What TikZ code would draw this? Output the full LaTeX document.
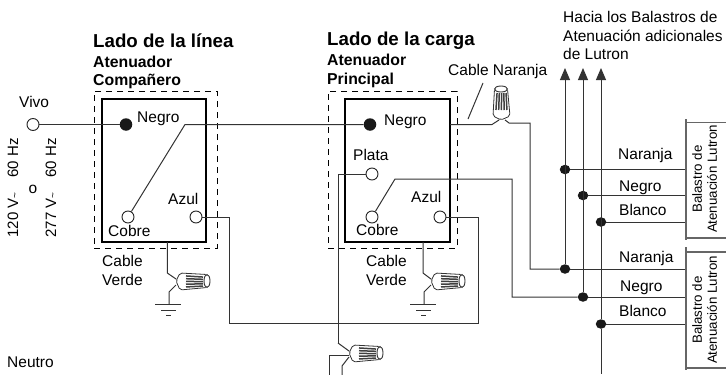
\documentclass[tikz,border=0pt]{standalone}
\usepackage{fontspec}
\setmainfont{Liberation Sans}
\usetikzlibrary{arrows.meta,shapes.geometric}

\begin{document}
\begin{tikzpicture}[x=1pt,y=-1pt,
lbl/.style={%
anchor=west,
inner sep=0pt,
text height=11pt,
text depth=3pt,
font=\fontsize{15.5}{18}\selectfont,
},
head/.style={%
anchor=west,
inner sep=0pt,
font=\fontsize{18.7}{22}\selectfont\bfseries,
},
sub/.style={%
anchor=west,
inner sep=0pt,
font=\fontsize{15.8}{19}\selectfont\bfseries,
},
side/.style={%
rotate=90,
inner sep=0pt,
font=\fontsize{15}{17}\selectfont,
},
bal/.style={%
rotate=90,
inner sep=0pt,
font=\fontsize{13.3}{15}\selectfont,
},
term/.style={%
circle,
draw=black!85,
fill=white,
line width=.9pt,
minimum size=12pt,
inner sep=0pt,
},
blk/.style={%
circle,
fill=black!90,
minimum size=12.5pt,
inner sep=0pt,
},
jct/.style={%
ellipse,
fill=black!90,
minimum width=10.5pt,
minimum height=9.5pt,
inner sep=0pt,
},
inbox/.style={%
draw,
line width=1.3pt,
},
dashbox/.style={%
draw,
line width=.8pt,
dash pattern=on 6pt off 5pt,
},
wire/.style={%
draw=black!80,
line width=1pt,
},
brk/.style={%
draw=black!60,
line width=1.3pt,
},
nut/.pic={%
\draw[black!80,line width=.8pt,fill=white,rounded corners=2pt] (0,-1)--(4,-9)--(31,-7.5)--(31,5.5)--(4,8)--cycle;
\draw[black!80,line width=.9pt,fill=white] (31,-1) ellipse [x radius=3,y radius=6.5];
\foreach \y in {-5.5,-3,-.5,2,4.5}{%
\draw[black!75,line width=1.5pt] (10,\y*1.1)--(27,\y*.9);
}
\coordinate (-a) at (0,-3);
\coordinate (-b) at (0,3);
},
gnd/.pic={%
\draw[wire] (-14,0)--(12,0);
\draw[wire] (-8,6)--(7,6);
\draw[wire] (-3,11)--(2,11);
\coordinate (-o) at (0,0);
},
]
\useasboundingbox (0,0) rectangle (726,375);
%% Boxes
\node[inbox,minimum width=104,minimum height=143]at(154,170.5)(boxA){};
\node[dashbox,minimum width=123,minimum height=157]at(155.5,169.5)(dashA){};
\node[inbox,minimum width=105,minimum height=143]at(397.5,170.5)(boxB){};
\node[dashbox,minimum width=129,minimum height=157]at(392.5,169.5)(dashB){};
%% Terminals
\node[term]at(33,124.5)(vivo){};
\node[blk]at(126,124.5)(negroA){};
\node[term]at(128,217)(cobreA){};
\node[term]at(196,217)(azulA){};
\node[blk]at(370,124.5)(negroB){};
\node[term]at(372,174)(plataB){};
\node[term]at(372,217)(cobreB){};
\node[term]at(440,217)(azulB){};
%% Bends
\coordinate(kA)at(185,124.5);
\coordinate(kB)at(395,179);
\coordinate(kC)at(512,179);
\coordinate(azA)at(229,323);
\coordinate(azB)at(478,323);
\coordinate(plA)at(338,343);
\coordinate(orA)at(450,124.5);
\coordinate(orB)at(492,124.5);
\coordinate(orC)at(509,123);
\coordinate(orD)at(530,123);
\coordinate(vdA)at(167.3,242);
\coordinate(vdB)at(167.3,273);
\coordinate(vdC)at(169,292);
\coordinate(veA)at(423,242);
\coordinate(veB)at(423,273);
\coordinate(veC)at(424,292);
\coordinate(neA)at(329,355);
\coordinate(neB)at(329,375);
\coordinate(neC)at(342,366);
\coordinate(neD)at(342,375);
\coordinate(cnA)at(483,83);
\coordinate(cnB)at(468,119);
%% Ballast junctions
\foreach \n/\x/\y in {a/565/169.5,b/583/195.5,c/601/222,d/565/269,e/583/297,f/601/324}{%
\node[jct]at(\x,\y)(j\n){};
\coordinate(e\n)at(686,\y);
\draw[wire](j\n)--(e\n);
}
\foreach \n/\x/\f in {a/565/d,b/583/e,c/601/f}{%
\coordinate(up\n)at(\x,68);
\draw[wire,-{Triangle[length=12pt,width=10pt]}](j\f)--(up\n);
}
\coordinate(dwn)at(601,374);
\draw[wire](jf)--(dwn);
%% Wires
\draw[wire](vivo)--(negroA);
\draw[wire](cobreA)--(kA)--(negroB);
\draw[wire](azulA)-|(azA)--(azB)|-(azulB);
\draw[wire](cobreB)--(kB)--(kC)|-(je);
\draw[wire](plataB)-|(plA);
\draw[wire](cnA)--(cnB);
%% Wire nuts
\pic(nutA)at(176,282){nut};
\pic(nutB)at(431,282){nut};
\pic(nutC)at(349,354){nut};
\pic[rotate=90](nutT)at(502,120){nut};
\pic(gndA)at(169,304){gnd};
\pic(gndB)at(424,304){gnd};
\draw[wire](vdA)--(vdB)--(nutA-a);
\draw[wire](nutA-b)--(vdC)--(gndA-o);
\draw[wire](veA)--(veB)--(nutB-a);
\draw[wire](nutB-b)--(veC)--(gndB-o);
\draw[wire](plA)--(nutC-a);
\draw[wire](nutC-a|-neA)--(neA)--(neB);
\draw[wire](nutC-b)--(neC)--(neD);
\draw[wire](orA)--(orB)--(nutT-a);
\draw[wire](nutT-b)--(orC)--(orD)|-(jd);
%% Ballast brackets
\draw[brk](686,119)--(686,240);
\draw[brk](686,122.7)--(726,122.7);
\draw[brk](686,238)--(726,238);
\draw[brk](686,247)--(686,370);
\draw[brk](686,252)--(726,252);
\draw[brk](686,368)--(726,368);
%% Headings
\node[head]at(93,41)(hdA){Lado de la línea};
\node[sub]at(93,62)(sbA){Atenuador};
\node[sub]at(93,81)(sbB){Compañero};
\node[head]at(327,41)(hdB){Lado de la carga};
\node[sub]at(327,60)(sbC){Atenuador};
\node[sub]at(327,80)(sbD){Principal};
%% Labels
\node[lbl]at(563,18)(hcA){Hacia los Balastros de};
\node[lbl]at(563,37)(hcB){Atenuación adicionales};
\node[lbl]at(563,55)(hcC){de Lutron};
\node[lbl]at(448,71)(cnL){Cable Naranja};
\node[lbl]at(19,103)(vvL){Vivo};
\node[lbl]at(7,363)(ntL){Neutro};
\node[lbl]at(137,118)(ngA){Negro};
\node[lbl]at(108,232)(cbA){Cobre};
\node[lbl]at(168,200)(azL){Azul};
\node[lbl]at(102,262)(cvA){Cable};
\node[lbl]at(102,281)(cvB){Verde};
\node[lbl]at(384,121)(ngB){Negro};
\node[lbl]at(353,156)(plL){Plata};
\node[lbl]at(411,198)(azM){Azul};
\node[lbl]at(356,231)(cbB){Cobre};
\node[lbl]at(366,262)(cvC){Cable};
\node[lbl]at(366,281)(cvD){Verde};
\node[lbl]at(618,155)(nrA){Naranja};
\node[lbl]at(619,187)(ngC){Negro};
\node[lbl]at(619,211)(blA){Blanco};
\node[lbl]at(619,258)(nrB){Naranja};
\node[lbl]at(620,287)(ngD){Negro};
\node[lbl]at(619,312)(blB){Blanco};
%% Rotated labels
\node[side]at(13,188)(vA){120 V{\fontsize{10}{10}\selectfont\textasciitilde}\quad 60 Hz};
\node[lbl,anchor=center]at(33,189)(vO){o};
\node[side]at(51,188)(vB){277 V{\fontsize{10}{10}\selectfont\textasciitilde}\quad 60 Hz};
\node[bal]at(697,179)(bsA){Balastro de};
\node[bal]at(712,179)(atA){Atenuación Lutron};
\node[bal]at(697,310)(bsB){Balastro de};
\node[bal]at(712,310)(atB){Atenuación Lutron};
\end{tikzpicture}
\end{document}
